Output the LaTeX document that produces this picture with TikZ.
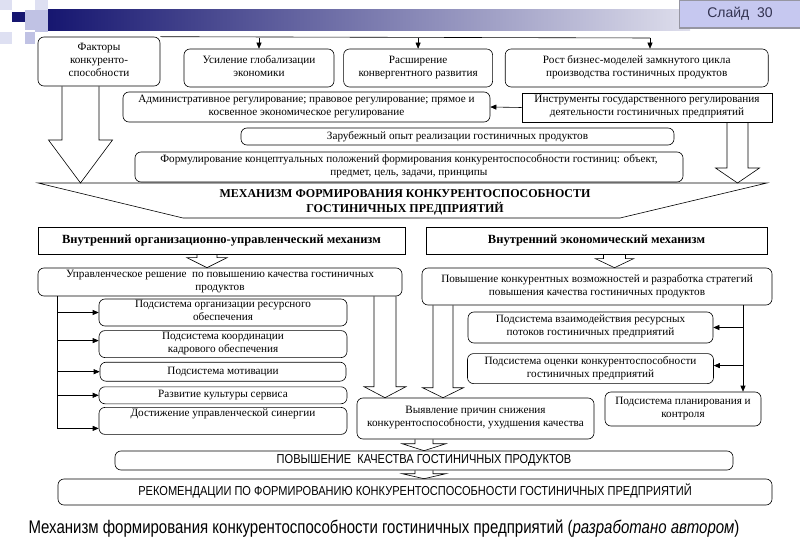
\documentclass[tikz,border=0pt]{standalone}
\usepackage{fontspec}
\setmainfont{Liberation Serif}
\newfontfamily\narrowsans[FakeStretch=0.85]{Liberation Sans}
\newfontfamily\captionsans[FakeStretch=0.82]{Liberation Sans}
\newfontfamily\slidesans{Liberation Sans}
\usetikzlibrary{arrows.meta, positioning, calc}
\definecolor{slidenavy}{RGB}{22,22,112}
\definecolor{slidelight}{RGB}{222,222,236}
\definecolor{slidesq}{RGB}{192,194,228}
\definecolor{slidesqpale}{RGB}{222,224,242}
\definecolor{slidebox}{RGB}{198,200,240}
\definecolor{slideedge}{RGB}{150,150,162}
\definecolor{slidetext}{RGB}{50,50,80}
\newcommand{\boxfont}{\fontsize{11.2}{13}\selectfont}
\newcommand{\headfont}{\fontsize{12.5}{14}\selectfont\bfseries}
\newcommand{\mechfont}{\fontsize{12}{15}\selectfont\bfseries}
\newcommand{\capsfont}{\narrowsans\fontsize{13}{15}\selectfont}
\newcommand{\captionfont}{\captionsans\fontsize{18.3}{20}\selectfont}
\tikzset{
  basebox/.style={rectangle,rounded corners=6pt,draw=black,line width=0.6pt,align=center,font=\boxfont,inner sep=0pt,
                  execute at begin node=\strut,execute at end node=\strut},
  sqbox/.style={basebox,rounded corners=0pt},
  headbox/.style={sqbox,font=\headfont},
  capsbox/.style={basebox,font=\capsfont},
  arr/.style={-{Triangle[length=6pt,width=5pt]},line width=0.6pt},
  plain/.style={draw=black,line width=0.6pt},
  hollow/.style={draw=black,line width=0.6pt,line join=miter}
}
% hollow block arrow: start, tip, shaft half width, head half width, head length
\newcommand{\hollowarr}[5]{%
  \draw[hollow] ($(#1)+(-#3,0)$) -- ($(#2)+(-#3,-#5)$) -- ($(#2)+(-#4,-#5)$) -- (#2)
    -- ($(#2)+(#4,-#5)$) -- ($(#2)+(#3,-#5)$) -- ($(#1)+(#3,0)$);}

\begin{document}
\begin{tikzpicture}[x=1pt,y=-1pt]
  \useasboundingbox (0,0) rectangle (800,553);

  % slide header
  \fill[slidesqpale] (0,0) rectangle (12,10);
  \fill[slidesqpale] (35,0) rectangle (48,10);
  \fill[slidenavy] (12,12) rectangle (25,22);
  \fill[slidesq] (25,10) rectangle (35,30);
  \fill[slidesq] (35,10) rectangle (48,32);
  \fill[slidesq] (25,32) rectangle (35,44);
  \fill[slidesqpale] (0,32) rectangle (12,44);
  \shade[left color=slidenavy,right color=slidelight] (48,10) rectangle (690,31);
  \node[draw=slideedge,line width=1.5pt,fill=slidebox,minimum width=121pt,minimum height=28pt,
        inner sep=0pt,font=\slidesans\fontsize{14}{16}\selectfont,text=slidetext] (slide) at (740,14)
    {Слайд \ 30};

  % factors
  \node[basebox,minimum width=122pt,minimum height=49pt] (faktory) at (99,61.5)
    {Факторы\\конкуренто-\\способности};
  \node[basebox,minimum width=150pt,minimum height=38pt] (usil) at (259,68)
    {Усиление глобализации\\экономики};
  \node[basebox,minimum width=149pt,minimum height=38pt,right=9pt of usil] (rassh)
    {Расширение\\конвергентного развития};
  \node[basebox,minimum width=263pt,minimum height=38pt,right=12pt of rassh] (rost)
    {Рост бизнес-моделей замкнутого цикла\\производства гостиничных продуктов};

  \node[basebox,minimum width=367pt,minimum height=30pt] (admin) at (306.5,107)
    {Административное регулирование; правовое регулирование; прямое и\\косвенное экономическое регулирование};
  \node[sqbox,minimum width=250pt,minimum height=29pt] (instr) at (647,107.5)
    {Инструменты государственного регулирования\\деятельности гостиничных предприятий};
  \node[basebox,minimum width=433pt,minimum height=17pt] (zarub) at (457.5,136.5)
    {Зарубежный опыт реализации гостиничных продуктов};
  \node[basebox,minimum width=548pt,minimum height=30pt] (formul) at (409,167)
    {Формулирование концептуальных положений формирования конкурентоспособности гостиниц: объект,\\предмет, цель, задачи, принципы};

  % mechanism banner
  \coordinate (mechTL) at (38,183);
  \coordinate (mechTR) at (767,183);
  \coordinate (mechBR) at (620,218);
  \coordinate (mechBL) at (183,218);
  \draw[plain] (mechTL) -- (mechTR) -- (mechBR) -- (mechBL) -- cycle;
  \node[align=center,font=\mechfont,inner sep=0pt] (mech) at (405,202)
    {МЕХАНИЗМ ФОРМИРОВАНИЯ КОНКУРЕНТОСПОСОБНОСТИ\\ГОСТИНИЧНЫХ ПРЕДПРИЯТИЙ};

  \node[headbox,minimum width=367pt,minimum height=27pt] (vnorg) at (221.5,240.5)
    {Внутренний организационно-управленческий механизм};
  \node[headbox,minimum width=341pt,minimum height=27pt] (vnek) at (596.5,240.5)
    {Внутренний экономический механизм};

  % organisational branch
  \node[basebox,minimum width=364pt,minimum height=28pt] (upr) at (220,282)
    {Управленческое решение \ по повышению качества гостиничных\\продуктов};
  \node[basebox,minimum width=248pt,minimum height=27pt] (sub1) at (223,312.5)
    {Подсистема организации ресурсного\\обеспечения};
  \node[basebox,minimum width=248pt,minimum height=27pt,below=4pt of sub1] (sub2)
    {Подсистема координации\\кадрового обеспечения};
  \node[basebox,minimum width=246pt,minimum height=19pt,below=4pt of sub2] (sub3)
    {Подсистема мотивации};
  \node[basebox,minimum width=248pt,minimum height=17pt,below=5pt of sub3] (sub4)
    {Развитие культуры сервиса};
  \node[basebox,minimum width=248pt,minimum height=27pt,below=3pt of sub4] (sub5)
    {Достижение управленческой синергии\\\mbox{}};

  % economic branch
  \node[basebox,minimum width=350pt,minimum height=37pt] (povysh) at (597,286.5)
    {Повышение конкурентных возможностей и разработка стратегий\\повышения качества гостиничных продуктов};
  \node[basebox,minimum width=245pt,minimum height=31pt] (subr1) at (590.5,327.5)
    {Подсистема взаимодействия ресурсных\\потоков гостиничных предприятий};
  \node[basebox,minimum width=246pt,minimum height=30pt,below=10pt of subr1] (subr2)
    {Подсистема оценки конкурентоспособности\\гостиничных предприятий};
  \node[basebox,minimum width=156pt,minimum height=34pt] (plan) at (683,409)
    {Подсистема планирования и\\контроля};

  \node[basebox,minimum width=237pt,minimum height=41pt] (vyyav) at (475.5,418.5)
    {Выявление причин снижения\\конкурентоспособности, ухудшения качества};
  \node[capsbox,minimum width=618pt,minimum height=19pt] (povkach) at (424,460.5)
    {ПОВЫШЕНИЕ \ КАЧЕСТВА ГОСТИНИЧНЫХ ПРОДУКТОВ};
  \node[capsbox,minimum width=714pt,minimum height=26pt] (rekom) at (415,492)
    {РЕКОМЕНДАЦИИ ПО ФОРМИРОВАНИЮ КОНКУРЕНТОСПОСОБНОСТИ ГОСТИНИЧНЫХ ПРЕДПРИЯТИЙ};

  \node[font=\captionfont,inner sep=0pt] (caption) at (384,529)
    {Механизм формирования конкурентоспособности гостиничных предприятий (\textit{разработано автором})};

  % top distribution line
  \coordinate (bus) at (650,38);
  \draw[plain] (faktory.north east) -- (bus);
  \draw[arr] (usil.north |- bus) -- (usil.north);
  \draw[arr] (rassh.north |- bus) -- (rassh.north);
  \draw[arr] (bus) -- (bus |- rost.north);
  \draw[arr] (instr.west) -- (admin.east);

  % block arrows into the mechanism
  \coordinate (fa) at (80.5,0);
  \coordinate (ia) at (737.5,0);
  \hollowarr{fa |- faktory.south}{fa |- mechTL}{18.5}{32}{43}
  \hollowarr{ia |- instr.south}{ia |- mechTR}{10.5}{22}{15}

  % block arrows below the headings
  \coordinate (oa) at (207,0);
  \coordinate (ea) at (614.5,0);
  \hollowarr{oa |- vnorg.south}{oa |- upr.north}{10}{20}{10}
  \hollowarr{ea |- vnek.south}{ea |- povysh.north}{11}{19}{9}

  % left bracket
  \coordinate (lb) at (57,0);
  \draw[plain] (lb |- upr.south) -- ($(lb |- sub5.west)+(0,7.5)$);
  \draw[arr] (lb |- sub1.west) -- (sub1.west);
  \draw[arr] ($(lb |- sub2.west)+(0,-3.5)$) -- ($(sub2.west)+(0,-3.5)$);
  \draw[arr] (lb |- sub3.west) -- (sub3.west);
  \draw[arr] (lb |- sub4.west) -- (sub4.west);
  \draw[arr] ($(lb |- sub5.west)+(0,7.5)$) -- ($(sub5.west)+(0,7.5)$);

  % right bracket
  \coordinate (rb) at (743,0);
  \draw[arr] (rb |- povysh.south) -- (rb |- plan.north);
  \draw[arr] (rb |- subr1.east) -- (subr1.east);
  \draw[arr] ($(rb |- subr2.east)+(0,-3)$) -- ($(subr2.east)+(0,-3)$);

  % block arrows to the analysis box and down
  \coordinate (va) at (385,0);
  \coordinate (vb) at (443,0);
  \coordinate (ka) at (424,0);
  \hollowarr{va |- upr.south}{va |- vyyav.north}{11}{21}{11}
  \hollowarr{vb |- povysh.south}{vb |- vyyav.north}{10}{20.5}{10}
  \hollowarr{ka |- vyyav.south}{ka |- povkach.north}{9}{22}{7}
  \hollowarr{ka |- povkach.south}{ka |- rekom.north}{9}{22}{5}
\end{tikzpicture}
\end{document}
